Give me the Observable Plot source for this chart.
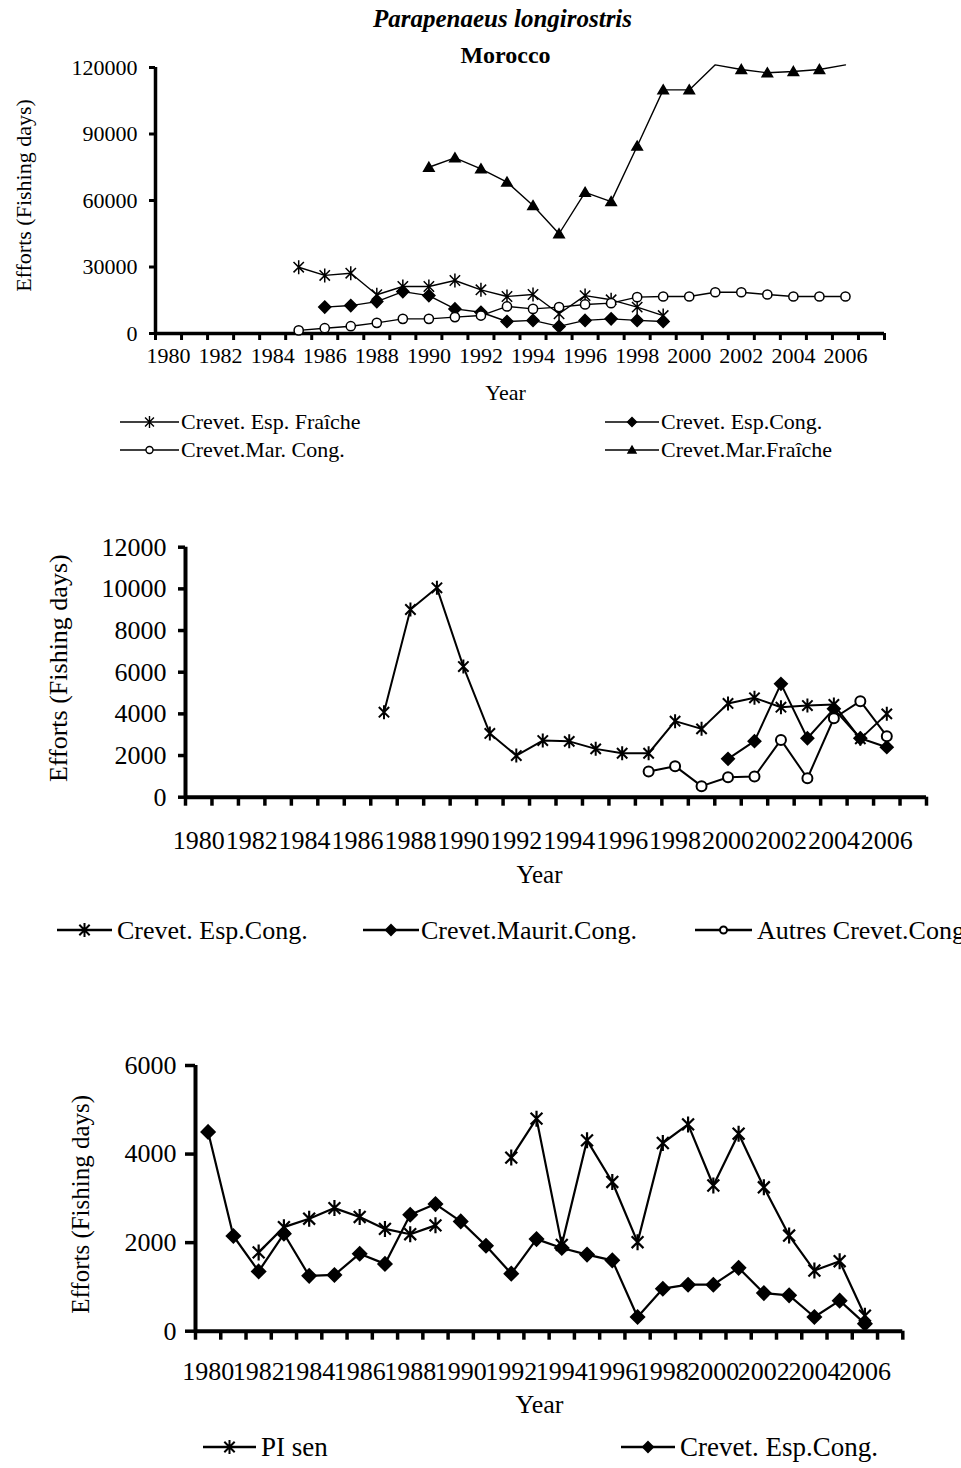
<!DOCTYPE html>
<html><head><meta charset="utf-8">
<script src="https://cdn.jsdelivr.net/npm/d3@7"></script>
<script src="https://cdn.jsdelivr.net/npm/@observablehq/plot@0.6"></script>
<style>
html,body{margin:0;padding:0;background:#fff;overflow:hidden}
#page{position:relative;width:961px;height:1468px;overflow:hidden;background:#fff}
#page > svg{position:absolute;left:0;margin:0}
</style></head><body><div id="page"></div>
<script>
// ---------------- DATA ----------------
const title1 = "Parapenaeus longirostris";
const subtitle1 = "Morocco";
const yLabel = "Efforts (Fishing days)";
const xLabel = "Year";
const xTickYears = [1980,1982,1984,1986,1988,1990,1992,1994,1996,1998,2000,2002,2004,2006];

// Chart 1
const names1 = ["Crevet. Esp. Fraîche","Crevet. Esp.Cong.","Crevet.Mar. Cong.","Crevet.Mar.Fraîche"];
const years1 = [1985,1986,1987,1988,1989,1990,1991,1992,1993,1994,1995,1996,1997,1998,1999,2000,2001,2002,2003,2004,2005,2006];
const espFraiche1 = [29900,26200,27200,17500,21200,21200,23900,19700,16700,17600,8900,17100,15200,11900,8100,null,null,null,null,null,null,null];
const espCong1 = [null,11900,12600,14400,18900,17100,11100,9600,5400,5900,3200,5900,6600,5900,5400,null,null,null,null,null,null,null];
const marCong1 = [1400,2400,3300,4800,6600,6600,7400,8100,12200,11100,11900,13100,13700,16400,16700,16700,18600,18600,17600,16700,16700,16700];
const marFraiche1 = [null,null,null,null,null,75000,79200,74300,68300,57700,45000,63700,59500,84500,109900,109900,121200,119100,117600,118200,119100,121200];
const marFraicheNoMarker1 = [2001, 2006];
const yTicks1 = [0,30000,60000,90000,120000];

// Chart 2
const names2 = ["Crevet. Esp.Cong.","Crevet.Maurit.Cong.","Autres Crevet.Cong."];
const years2 = [1987,1988,1989,1990,1991,1992,1993,1994,1995,1996,1997,1998,1999,2000,2001,2002,2003,2004,2005,2006];
const espCong2 = [4080,9010,10050,6270,3060,2000,2720,2680,2320,2110,2110,3650,3280,4500,4770,4320,4400,4450,2800,4000];
const mauritCong2 = [null,null,null,null,null,null,null,null,null,null,null,null,null,1840,2690,5440,2830,4240,2830,2400];
const autresCong2 = [null,null,null,null,null,null,null,null,null,null,1230,1490,530,960,990,2750,910,3790,4610,2930];
const yTicks2 = [0,2000,4000,6000,8000,10000,12000];

// Chart 3
const names3 = ["PI sen","Crevet. Esp.Cong."];
const years3 = [1980,1981,1982,1983,1984,1985,1986,1987,1988,1989,1990,1991,1992,1993,1994,1995,1996,1997,1998,1999,2000,2001,2002,2003,2004,2005,2006];
const piSen3 = [null,null,1780,2350,2540,2780,2580,2310,2190,2390,null,null,3920,4800,1950,4310,3370,2010,4250,4670,3290,4460,3250,2160,1370,1580,350];
const espCong3 = [4500,2150,1350,2200,1250,1270,1750,1520,2630,2870,2480,1930,1300,2080,1880,1730,1600,320,960,1050,1050,1430,860,810,320,690,170];
const yTicks3 = [0,2000,4000,6000];

// ---------------- SYMBOLS ----------------
const FONT = '"Liberation Serif","Times New Roman",Times,serif';
const symStar = {draw(c, s){const r=Math.sqrt(s/Math.PI), a=r*0.74; c.moveTo(0,-r); c.lineTo(0,r); c.moveTo(-a,-a); c.lineTo(a,a); c.moveTo(-a,a); c.lineTo(a,-a);}};
const symDiamond = {draw(c, s){const r=Math.sqrt(s/Math.PI); c.moveTo(0,-r); c.lineTo(r,0); c.lineTo(0,r); c.lineTo(-r,0); c.closePath();}};
const symTriangle = {draw(c, s){const r=Math.sqrt(s/Math.PI); c.moveTo(0,-0.95*r); c.lineTo(r,0.75*r); c.lineTo(-r,0.75*r); c.closePath();}};
const symCircle = {draw(c, s){const r=Math.sqrt(s/Math.PI); c.moveTo(r,0); c.arc(0,0,r,0,2*Math.PI); c.closePath();}};
const styles = {
  star: {symbol: symStar, fill: "none"},
  diamond: {symbol: symDiamond, fill: "black"},
  triangle: {symbol: symTriangle, fill: "black"},
  circle: {symbol: symCircle, fill: "white"}
};

const bounds = d3.range(1979.5, 2008, 1);
const page = document.getElementById("page");

function makeChart(cfg) {
  const marks = [];
  const frameMidX = (cfg.ml + (961 - cfg.mr)) / 2;
  cfg.series.forEach(s => {
    const rows = s.years.map((yr, i) => ({year: yr, v: s.values[i]}));
    const skip = s.noMarker || [];
    marks.push(Plot.line(rows, {x: "year", y: "v", stroke: "black", strokeWidth: cfg.lineW}));
    marks.push(Plot.dot(rows.filter(d => d.v != null && !skip.includes(d.year)), {x: "year", y: "v", r: s.r, ...styles[s.kind], stroke: "black", strokeWidth: cfg.markW}));
  });
  const p = Plot.plot({
    width: 961, height: cfg.height,
    marginLeft: cfg.ml, marginRight: cfg.mr, marginTop: cfg.mt, marginBottom: cfg.mb,
    style: {fontFamily: FONT, fontSize: cfg.fs + "px", background: "transparent", overflow: "visible", color: "black"},
    x: {domain: [1979.5, 2007.5]},
    y: {domain: cfg.yDomain},
    marks: [
      Plot.axisX({ticks: bounds, tickSize: cfg.tickX, tickFormat: () => "", strokeWidth: cfg.tickW, label: null}),
      Plot.axisY({ticks: cfg.yTicks, tickSize: cfg.tickY, tickFormat: () => "", strokeWidth: cfg.tickW, label: null}),
      Plot.ruleY([0], {strokeWidth: cfg.axisW}),
      Plot.ruleX([1979.5], {strokeWidth: cfg.axisW}),
      Plot.text(xTickYears, {x: d => d, text: d => String(d), frameAnchor: "bottom", lineAnchor: "middle", dy: cfg.xLabDy, fontSize: cfg.fs}),
      Plot.text(cfg.yTicks, {y: d => d, text: d => String(d), frameAnchor: "left", lineAnchor: "middle", dx: cfg.yLabDx, textAnchor: "end", fontSize: cfg.fs}),
      Plot.text([yLabel], {text: d => d, frameAnchor: "left", textAnchor: "middle", lineAnchor: "middle", rotate: -90, dx: cfg.yTitleX - cfg.ml, dy: cfg.yTitleDy, fontSize: cfg.yTitleFs}),
      Plot.text([xLabel], {text: d => d, frameAnchor: "bottom", textAnchor: "middle", lineAnchor: "middle", dx: cfg.yearX - frameMidX, dy: cfg.yearDy, fontSize: cfg.yearFs}),
      ...(cfg.extra || []).map(e => Plot.text([e.text], {text: d => d, frameAnchor: "top", textAnchor: "middle", lineAnchor: "middle", dx: e.x - frameMidX, dy: e.dy, fontSize: e.fs, fontWeight: "bold", fontStyle: e.italic ? "italic" : "normal"})),
      ...marks
    ]
  });
  p.style.top = cfg.top + "px";
  page.appendChild(p);
}

function legend(top, height, items, fs, lineW, markW) {
  const svg = d3.create("svg").attr("width", 961).attr("height", height)
    .style("top", top + "px").style("font-family", FONT).style("font-size", fs + "px");
  items.forEach(it => {
    svg.append("line").attr("x1", it.x1).attr("x2", it.x2).attr("y1", it.y).attr("y2", it.y)
      .attr("stroke", "black").attr("stroke-width", lineW);
    const path = d3.path();
    styles[it.kind].symbol.draw(path, Math.PI * it.r * it.r);
    svg.append("path").attr("d", path.toString())
      .attr("transform", `translate(${(it.x1 + it.x2) / 2},${it.y})`)
      .attr("fill", styles[it.kind].fill).attr("stroke", "black").attr("stroke-width", markW);
    svg.append("text").attr("x", it.tx).attr("y", it.y).attr("dy", "0.34em").text(it.label);
  });
  page.appendChild(svg.node());
}

// ---------------- CHART 1 ----------------
makeChart({
  top: 0, height: 410, ml: 155, mr: 77, mt: 67, mb: 77,
  yDomain: [0, 120000], yTicks: yTicks1, fs: 22,
  xLabDy: 22, yLabDx: -18, tickX: 7, tickY: 6, tickW: 3, axisW: 3.5, lineW: 1.4, markW: 1.5,
  yTitleX: 23, yTitleDy: -5, yTitleFs: 22, yearX: 505, yearDy: 59, yearFs: 22,
  extra: [{text: title1, x: 502, dy: -49, fs: 25, italic: true}, {text: subtitle1, x: 505, dy: -12, fs: 24}],
  series: [
    {years: years1, values: espFraiche1, kind: "star", r: 7},
    {years: years1, values: espCong1, kind: "diamond", r: 6},
    {years: years1, values: marCong1, kind: "circle", r: 4.6},
    {years: years1, values: marFraiche1, kind: "triangle", r: 5.2, noMarker: marFraicheNoMarker1}
  ]
});
legend(400, 70, [
  {label: names1[0], x1: 120, x2: 179, tx: 181, y: 22, kind: "star", r: 6},
  {label: names1[1], x1: 605, x2: 659, tx: 661, y: 22, kind: "diamond", r: 4.5},
  {label: names1[2], x1: 120, x2: 179, tx: 181, y: 50, kind: "circle", r: 3.5},
  {label: names1[3], x1: 605, x2: 659, tx: 661, y: 50, kind: "triangle", r: 4}
], 22, 1.5, 1.4);

// ---------------- CHART 2 ----------------
makeChart({
  top: 480, height: 430, ml: 185, mr: 35, mt: 66.7, mb: 113.3,
  yDomain: [0, 12000], yTicks: yTicks2, fs: 26,
  xLabDy: 43, yLabDx: -19, tickX: 9, tickY: 7, tickW: 3.5, axisW: 4, lineW: 2, markW: 2,
  yTitleX: 58, yTitleDy: -4, yTitleFs: 26, yearX: 539, yearDy: 78, yearFs: 25,
  series: [
    {years: years2, values: espCong2, kind: "star", r: 7},
    {years: years2, values: mauritCong2, kind: "diamond", r: 6},
    {years: years2, values: autresCong2, kind: "circle", r: 5}
  ]
});
legend(900, 60, [
  {label: names2[0], x1: 57, x2: 112, tx: 117, y: 30, kind: "star", r: 7},
  {label: names2[1], x1: 363, x2: 419, tx: 421, y: 30, kind: "diamond", r: 5},
  {label: names2[2], x1: 695, x2: 752, tx: 757, y: 30, kind: "circle", r: 3.5}
], 26, 2.5, 2);

// ---------------- CHART 3 ----------------
makeChart({
  top: 1000, height: 430, ml: 195, mr: 58.7, mt: 65, mb: 99.3,
  yDomain: [0, 6000], yTicks: yTicks3, fs: 26,
  xLabDy: 40, yLabDx: -19, tickX: 9, tickY: 10, tickW: 3.5, axisW: 4, lineW: 2.2, markW: 2.2,
  yTitleX: 80, yTitleDy: 6, yTitleFs: 25, yearX: 539, yearDy: 73, yearFs: 26,
  series: [
    {years: years3, values: piSen3, kind: "star", r: 8},
    {years: years3, values: espCong3, kind: "diamond", r: 6.5}
  ]
});
legend(1420, 48, [
  {label: names3[0], x1: 203, x2: 256, tx: 261, y: 27, kind: "star", r: 7},
  {label: names3[1], x1: 621, x2: 675, tx: 680, y: 27, kind: "diamond", r: 5}
], 27, 2.5, 2);
</script>
</body></html>
